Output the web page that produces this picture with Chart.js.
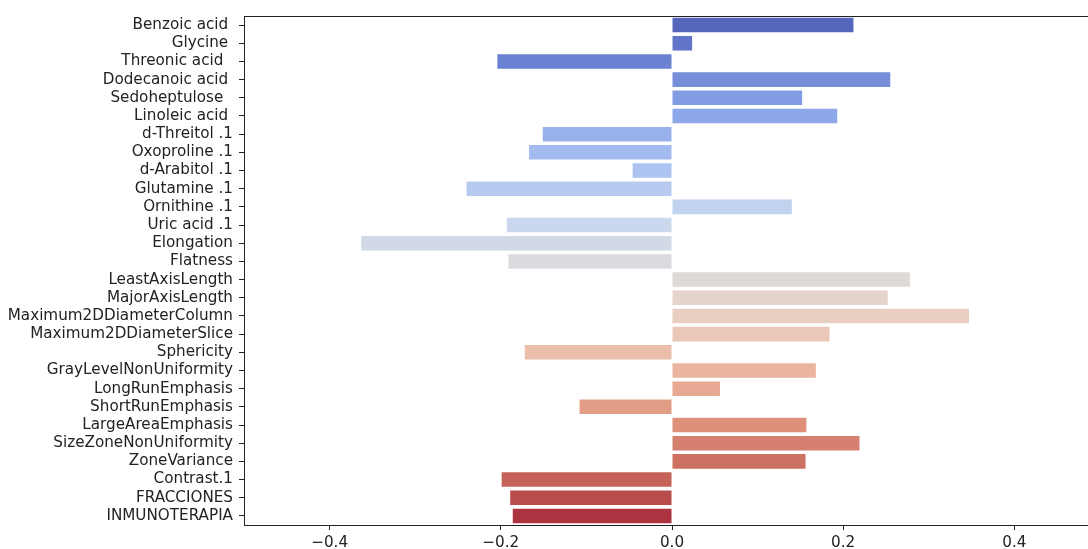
<!DOCTYPE html>
<html>
<head>
<meta charset="utf-8">
<script src="https://cdn.jsdelivr.net/npm/chart.js@4/dist/chart.umd.min.js"></script>
<style>
  html, body { margin: 0; padding: 0; background: #fff; overflow: hidden; }
  #wrap { width: 1110px; height: 549px; position: relative; }
</style>
</head>
<body>
<div id="wrap"><canvas id="chart" width="1110" height="549"></canvas></div>
<script>
// Feature names (top to bottom) and their coefficients
const features = [
  "Benzoic acid ", "Glycine ", "Threonic acid  ", "Dodecanoic acid ", "Sedoheptulose  ",
  "Linoleic acid ", "d-Threitol .1", "Oxoproline .1", "d-Arabitol .1", "Glutamine .1",
  "Ornithine .1", "Uric acid .1", "Elongation", "Flatness", "LeastAxisLength",
  "MajorAxisLength", "Maximum2DDiameterColumn", "Maximum2DDiameterSlice", "Sphericity",
  "GrayLevelNonUniformity", "LongRunEmphasis", "ShortRunEmphasis", "LargeAreaEmphasis",
  "SizeZoneNonUniformity", "ZoneVariance", "Contrast.1", "FRACCIONES", "INMUNOTERAPIA"
];
const coefficients = [
  0.212, 0.0235, -0.204, 0.255, 0.152,
  0.193, -0.151, -0.167, -0.046, -0.240,
  0.140, -0.193, -0.363, -0.191, 0.278,
  0.252, 0.347, 0.184, -0.172,
  0.168, 0.056, -0.108, 0.157,
  0.219, 0.156, -0.199, -0.189, -0.186
];
const xTicks = [-0.4, -0.2, 0.0, 0.2, 0.4];

// coolwarm anchor colours at t = 0, 0.1, ..., 1
const coolwarm = [
  [59,76,192],[89,119,227],[123,159,249],[158,190,255],[192,212,245],
  [221,220,220],[242,203,183],[247,172,142],[238,132,104],[214,82,68],[180,4,38]
];
function sampleCoolwarm(t) {
  const p = t * 10, i = Math.min(9, Math.floor(p)), f = p - i;
  return coolwarm[i].map((c, k) => c + (coolwarm[i + 1][k] - c) * f);
}
// reduce HLS saturation (bar colours are slightly muted)
function desaturate(rgb, prop) {
  const [r, g, b] = rgb.map(v => v / 255);
  const mx = Math.max(r, g, b), mn = Math.min(r, g, b);
  const l = (mx + mn) / 2;
  if (mx === mn) return rgb;
  const d = mx - mn;
  const s = l > 0.5 ? d / (2 - mx - mn) : d / (mx + mn);
  let h;
  if (mx === r) h = ((g - b) / d) % 6;
  else if (mx === g) h = (b - r) / d + 2;
  else h = (r - g) / d + 4;
  h /= 6; if (h < 0) h += 1;
  const s2 = s * prop;
  const q = l < 0.5 ? l * (1 + s2) : l + s2 - l * s2;
  const pp = 2 * l - q;
  const hue = (t) => {
    if (t < 0) t += 1; if (t > 1) t -= 1;
    if (t < 1/6) return pp + (q - pp) * 6 * t;
    if (t < 1/2) return q;
    if (t < 2/3) return pp + (q - pp) * (2/3 - t) * 6;
    return pp;
  };
  return [hue(h + 1/3), hue(h), hue(h - 1/3)].map(v => v * 255);
}
const n = features.length;
const barColors = features.map((_, i) => {
  const c = desaturate(sampleCoolwarm((i + 1) / (n + 1)), 0.75);
  return `rgb(${c.map(v => Math.round(v)).join(',')})`;
});

// frame around the plotting area
const frame = {
  id: 'frame',
  afterDraw(chart) {
    const { ctx, chartArea: a } = chart;
    ctx.save();
    ctx.strokeStyle = '#222';
    ctx.lineWidth = 1;
    ctx.strokeRect(Math.round(a.left) + 0.5, Math.round(a.top) + 0.5,
                   Math.round(a.right - a.left), Math.round(a.bottom - a.top));
    ctx.restore();
  }
};

const font = { family: 'DejaVu Sans', size: 15.2 };

new Chart(document.getElementById('chart'), {
  type: 'bar',
  data: {
    labels: features,
    datasets: [{
      data: coefficients,
      backgroundColor: barColors,
      borderWidth: 0,
      categoryPercentage: 0.8,
      barPercentage: 1.0
    }]
  },
  options: {
    indexAxis: 'y',
    responsive: false,
    animation: false,
    layout: { padding: { left: 0, top: 16, right: 10, bottom: 0 } },
    plugins: { legend: { display: false }, tooltip: { enabled: false } },
    scales: {
      x: {
        type: 'linear',
        min: -0.5,
        max: 0.5,
        afterBuildTicks(scale) { scale.ticks = xTicks.map(v => ({ value: v })); },
        afterFit(scale) { scale.height = 24; },
        ticks: {
          color: '#222',
          font,
          padding: 4,
          maxRotation: 0,
          callback: (v) => (v < 0 ? '\u2212' : '') + Math.abs(v).toFixed(1)
        },
        grid: { display: true, drawOnChartArea: false, drawTicks: true, tickLength: 5, color: '#222' },
        border: { display: true, color: '#222' }
      },
      y: {
        afterFit(scale) { scale.width = 244; },
        ticks: { color: '#222', font, padding: 6, autoSkip: false },
        grid: { display: true, drawOnChartArea: false, drawTicks: true, tickLength: 5, color: '#222', offset: false },
        border: { display: true, color: '#222' }
      }
    }
  },
  plugins: [frame]
});
</script>
</body>
</html>
